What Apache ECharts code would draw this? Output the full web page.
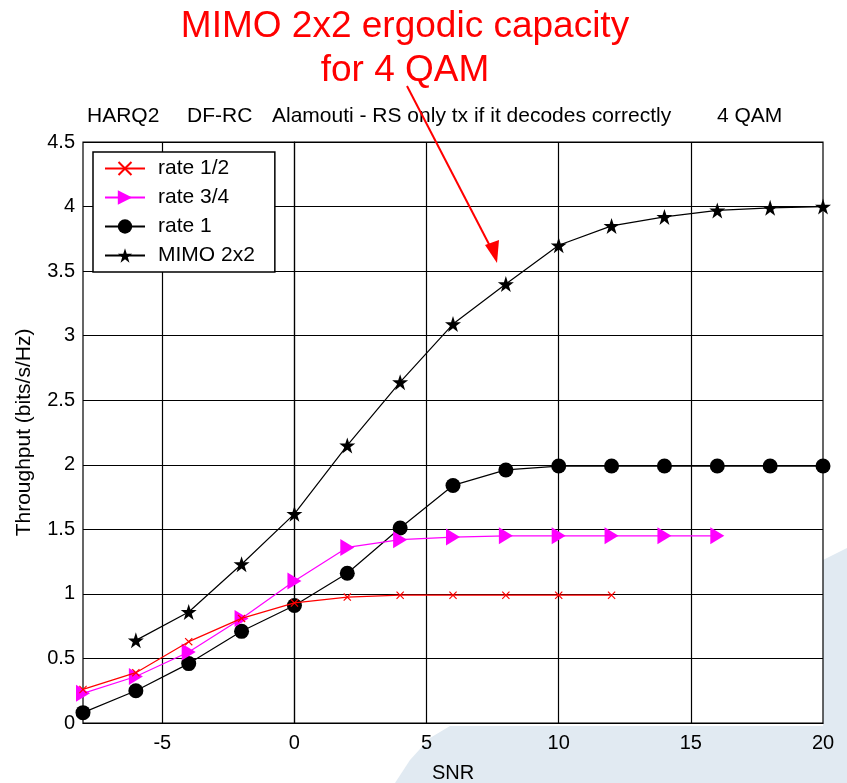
<!DOCTYPE html>
<html>
<head>
<meta charset="utf-8">
<script src="https://cdn.jsdelivr.net/npm/echarts@6/dist/echarts.min.js"></script>
<style>
html,body{margin:0;padding:0;background:#fff;}
#chart{width:847px;height:783px;}
</style>
</head>
<body>
<div id="chart"></div>
<script>
// SNR points (dB) and throughput per scheme (bits/s/Hz)
var snrRateHalf = [-8, -6, -4, -2, 0, 2, 4, 6, 8, 10, 12];
var rateHalf = [0.26, 0.39, 0.63, 0.81, 0.93, 0.975, 0.99, 0.99, 0.99, 0.99, 0.99];

var snrRate34 = [-8, -6, -4, -2, 0, 2, 4, 6, 8, 10, 12, 14, 16];
var rate34 = [0.23, 0.36, 0.55, 0.81, 1.10, 1.36, 1.42, 1.44, 1.45, 1.45, 1.45, 1.45, 1.45];

var snrRate1 = [-8, -6, -4, -2, 0, 2, 4, 6, 8, 10, 12, 14, 16, 18, 20];
var rate1 = [0.08, 0.25, 0.46, 0.71, 0.91, 1.16, 1.51, 1.84, 1.96, 1.99, 1.99, 1.99, 1.99, 1.99, 1.99];

var snrMimo = [-6, -4, -2, 0, 2, 4, 6, 8, 10, 12, 14, 16, 18, 20];
var mimo = [0.64, 0.86, 1.23, 1.62, 2.15, 2.64, 3.09, 3.40, 3.70, 3.85, 3.92, 3.97, 3.99, 4.00];

var seriesNames = ['rate 1/2', 'rate 3/4', 'rate 1', 'MIMO 2x2'];
var xTicks = [-5, 0, 5, 10, 15, 20];
var headerParts = ['HARQ2', 'DF-RC', 'Alamouti - RS only tx if it decodes correctly', '4 QAM'];

function pairs(xs, ys) {
  return xs.map(function (x, i) { return [x, ys[i]]; });
}

var FONT = '"Liberation Sans", Arial, sans-serif';
var crossPath = 'path://M0,1 L1,0 L5,4 L9,0 L10,1 L6,5 L10,9 L9,10 L5,6 L1,10 L0,9 L4,5 Z';
var starPath = 'path://M50,0 L61.8,35.4 L99,35.4 L69,57.3 L80.4,92.7 L50,70.8 L19.6,92.7 L31,57.3 L1,35.4 L38.2,35.4 Z';

var chart = echarts.init(document.getElementById('chart'), null, {renderer: 'canvas'});

// header line pieces, spaced out across the top of the plot
var headerX = [87, 187, 272, 717];
var headerText = headerParts.map(function (t, i) {
  return {
    type: 'text', left: headerX[i], top: 106, silent: true,
    style: {text: t, fontSize: 21, fontFamily: FONT, fill: '#000'}
  };
});

var option = {
  backgroundColor: '#ffffff',
  animation: false,
  textStyle: {fontFamily: FONT},
  title: {
    text: 'MIMO 2x2 ergodic capacity\nfor 4 QAM',
    left: 400, top: 0, textAlign: 'center',
    textStyle: {color: '#ff0000', fontSize: 37, fontWeight: 'normal', fontFamily: FONT, lineHeight: 44, align: 'center'}
  },
  legend: {
    left: 93, top: 152, orient: 'vertical',
    itemWidth: 40, itemHeight: 18, itemGap: 8,
    padding: [6, 20, 6, 11],
    backgroundColor: '#fff', borderColor: '#000', borderWidth: 1.5,
    textStyle: {fontSize: 21, color: '#000', fontFamily: FONT, padding: [0, 0, 0, 8]},
    data: seriesNames
  },
  grid: {
    left: 83, right: 24, top: 142, bottom: 60,
    outerBoundsMode: 'none',
    show: true, backgroundColor: '#fff', borderColor: '#000', borderWidth: 1.2
  },
  xAxis: {
    type: 'value', min: -8, max: 20, interval: 5,
    name: 'SNR', nameLocation: 'middle', nameGap: 40,
    nameTextStyle: {fontSize: 20, color: '#000', fontFamily: FONT},
    axisLine: {show: true, lineStyle: {color: '#000', width: 1.2}},
    axisTick: {show: false},
    axisLabel: {fontSize: 20, color: '#000', margin: 10, customValues: xTicks},
    splitLine: {show: false}
  },
  yAxis: {
    type: 'value', min: 0, max: 4.5, interval: 0.5,
    name: 'Throughput (bits/s/Hz)', nameLocation: 'middle', nameGap: 48,
    nameTextStyle: {fontSize: 21, color: '#000', fontFamily: FONT},
    axisLine: {show: true, lineStyle: {color: '#000', width: 1.2}},
    axisTick: {show: false},
    axisLabel: {fontSize: 20, color: '#000', margin: 8},
    splitLine: {show: true, lineStyle: {color: '#000', width: 1.2}}
  },
  series: [
    {
      name: seriesNames[0], type: 'line', data: pairs(snrRateHalf, rateHalf),
      color: '#ff0000', lineStyle: {width: 1.2, color: '#ff0000'},
      symbol: crossPath, symbolSize: 8, z: 4,
      itemStyle: {color: '#ff0000'}
    },
    {
      name: seriesNames[1], type: 'line', data: pairs(snrRate34, rate34),
      color: '#ff00ff', lineStyle: {width: 1.2, color: '#ff00ff'},
      symbol: 'triangle', symbolSize: [17, 14], symbolRotate: -90, z: 3,
      itemStyle: {color: '#ff00ff'}
    },
    {
      name: seriesNames[2], type: 'line', data: pairs(snrRate1, rate1),
      color: '#000', lineStyle: {width: 1.2, color: '#000'},
      symbol: 'circle', symbolSize: 15, z: 2,
      itemStyle: {color: '#000'}
    },
    {
      name: seriesNames[3], type: 'line', data: pairs(snrMimo, mimo),
      color: '#000', lineStyle: {width: 1.2, color: '#000'},
      symbol: starPath, symbolSize: 16, z: 2,
      itemStyle: {color: '#000'}
    },
    // vertical grid lines at the x tick positions
    {
      type: 'line', silent: true, data: [], legendHoverLink: false,
      markLine: {
        silent: true, symbol: 'none', label: {show: false}, z: 0,
        lineStyle: {color: '#000', width: 1.2, type: 'solid'},
        data: xTicks.slice(0, -1).map(function (v) { return {xAxis: v}; })
      }
    }
  ],
  graphic: headerText.concat([
    // pale slide-background shape at the lower right
    {
      type: 'polygon', z: -10, silent: true,
      shape: {points: [[395, 783], [410, 760], [430, 738], [450, 726], [823, 726], [823, 560], [847, 548], [847, 783]]},
      style: {fill: '#e1eaf2'}
    },
    // annotation arrow
    {
      type: 'line', z: 100, silent: true,
      shape: {x1: 407, y1: 86, x2: 492, y2: 250},
      style: {stroke: '#ff0000', lineWidth: 2}
    },
    {
      type: 'polygon', z: 100, silent: true,
      shape: {points: [[497, 263], [485, 245], [499, 240]]},
      style: {fill: '#ff0000'}
    }
  ])
};

chart.setOption(option);
</script>
</body>
</html>
